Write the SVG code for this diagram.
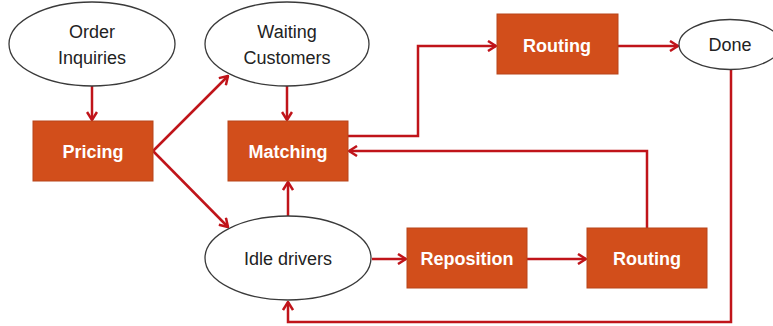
<svg xmlns="http://www.w3.org/2000/svg" width="773" height="326" viewBox="0 0 773 326">
<style>
.ell{fill:#fff;stroke:#3a3a3a;stroke-width:1.3}
.box{fill:#D24E1B;stroke:#B8441A;stroke-width:1}
.lt{font-family:"Liberation Sans",Arial,sans-serif;font-size:18px;fill:#222;text-anchor:middle}
.bt{font-family:"Liberation Sans",Arial,sans-serif;font-size:18px;font-weight:bold;fill:#fff;text-anchor:middle}
.c{fill:none;stroke:#C0141A;stroke-width:2.5;marker-end:url(#ah)}
</style>
<defs>
<marker id="ah" viewBox="0 0 10 12" refX="9" refY="6" markerWidth="10" markerHeight="12" markerUnits="userSpaceOnUse" orient="auto">
<path d="M1,1 L9,6 L1,11" fill="none" stroke="#C0141A" stroke-width="2.5"/>
</marker>
</defs>
<rect width="773" height="326" fill="#fff"/>
<g id="connectors">
<path class="c" d="M92,86 V120"/>
<path class="c" d="M287,86 V120"/>
<path class="c" d="M153,151 L228,76"/>
<path class="c" d="M153,151 L228,227"/>
<path class="c" d="M288,216 V182"/>
<path class="c" d="M348,136 H418 V46 H496"/>
<path class="c" d="M618,46 H678"/>
<path class="c" d="M647,228 V151 H349"/>
<path class="c" d="M372,259 H406"/>
<path class="c" d="M527,259 H586"/>
<path class="c" d="M731,69 V322 H288 V302"/>
</g>
<g id="order-inquiries">
<ellipse class="ell" cx="92" cy="44" rx="83" ry="42"/>
<text class="lt" x="92" y="38">Order</text>
<text class="lt" x="92" y="64">Inquiries</text>
</g>
<g id="waiting-customers">
<ellipse class="ell" cx="287" cy="44" rx="82" ry="42"/>
<text class="lt" x="287" y="38">Waiting</text>
<text class="lt" x="287" y="64">Customers</text>
</g>
<g id="pricing">
<rect class="box" x="33" y="121" width="120" height="60"/>
<text class="bt" x="93" y="158">Pricing</text>
</g>
<g id="matching">
<rect class="box" x="228" y="121" width="120" height="60"/>
<text class="bt" x="288" y="158">Matching</text>
</g>
<g id="routing-top">
<rect class="box" x="497" y="14" width="121" height="60"/>
<text class="bt" x="557" y="52">Routing</text>
</g>
<g id="done">
<ellipse class="ell" cx="730" cy="44.5" rx="51" ry="25"/>
<text class="lt" x="730" y="51">Done</text>
</g>
<g id="idle-drivers">
<ellipse class="ell" cx="288" cy="258" rx="83" ry="42"/>
<text class="lt" x="288" y="265">Idle drivers</text>
</g>
<g id="reposition">
<rect class="box" x="407" y="228" width="120" height="60"/>
<text class="bt" x="467" y="265">Reposition</text>
</g>
<g id="routing-bottom">
<rect class="box" x="587" y="228" width="120" height="60"/>
<text class="bt" x="647" y="265">Routing</text>
</g>
</svg>
